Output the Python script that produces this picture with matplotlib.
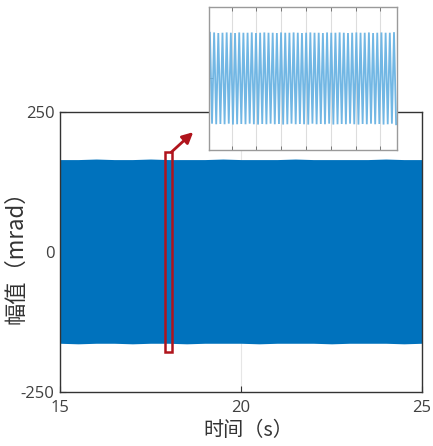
import numpy as np
import matplotlib
matplotlib.use("Agg")
import matplotlib.pyplot as plt
from matplotlib.patches import Rectangle

plt.rcParams['font.family'] = ['Noto Sans CJK SC', 'DejaVu Sans']
plt.rcParams['axes.unicode_minus'] = False

# ---- data ----
x_ticks = [15, 20, 25]
y_ticks = [-250, 0, 250]
x_label = "时间（s）"
y_label = "幅值（mrad）"

# envelope of the dense oscillation in the main plot (mrad)
env_time = [15.0, 15.5, 16.0, 16.5, 17.0, 17.5, 18.0, 18.5, 19.0, 19.5, 20.0,
            20.5, 21.0, 21.5, 22.0, 22.5, 23.0, 23.5, 24.0, 24.5, 25.0]
env_upper = [165, 165, 166, 165, 165, 166, 165, 165, 165, 166, 165,
             165, 165, 166, 165, 165, 165, 165, 166, 165, 165]
env_lower = [-163, -164, -163, -163, -164, -163, -163, -164, -163, -163, -163,
             -164, -163, -163, -163, -164, -163, -163, -163, -164, -163]

# zoomed window (red box) and the peaks/troughs seen in the inset
zoom_t0, zoom_t1 = 17.9, 18.1
zoom_ylo, zoom_yhi = -178, 178
inset_peaks = [160, 161, 159, 160, 161, 160, 159, 161, 160, 160, 161, 159, 160, 161, 160,
               160, 159, 161, 160, 160, 161, 160, 159, 160, 161, 160, 160, 159, 161, 160,
               160, 161, 160, 159, 160, 161, 160, 160, 161, 159, 160, 161, 160, 160, 162]
inset_troughs = [-158, -160, -159, -160, -158, -161, -160, -159, -160, -158, -160, -161, -159, -160, -158,
                 -160, -159, -161, -160, -158, -160, -159, -160, -161, -158, -160, -159, -160, -158, -161,
                 -160, -159, -160, -158, -160, -161, -159, -160, -158, -160, -159, -161, -160, -158, -160]

blue = '#0072BD'
light_blue = '#6ab3e3'
red = '#b0141c'

fig = plt.figure(figsize=(4.33, 4.46), dpi=100)
ax = fig.add_axes([0.1386, 0.1211, 0.836, 0.6278])

ax.fill_between(env_time, env_lower, env_upper, color=blue, lw=0, zorder=2)
ax.set_xlim(15, 25)
ax.set_ylim(-250, 250)
ax.set_xticks(x_ticks)
ax.set_yticks(y_ticks)
ax.xaxis.grid(True, color='#e6e6e6', lw=0.8, zorder=0)
ax.set_axisbelow(True)
ax.tick_params(direction='in', length=4, width=0.8, colors='#333333',
               labelsize=12, labelcolor='#404040')
for lab in ax.get_xticklabels() + ax.get_yticklabels():
    lab.set_family(['Open Sans', 'DejaVu Sans'])
ax.tick_params(axis='x', pad=6)
ax.tick_params(axis='y', pad=4)
for s in ax.spines.values():
    s.set_color('#333333')
    s.set_linewidth(1.0)
ax.set_xlabel(x_label, fontsize=14.5, color='#333333')
ax.xaxis.set_label_coords(0.52, -0.1)
ax.set_ylabel(y_label, fontsize=16, color='#333333')
ax.yaxis.set_label_coords(-0.09, 0.5)

# red box marking zoom region
ax.add_patch(Rectangle((zoom_t0, zoom_ylo), zoom_t1 - zoom_t0, zoom_yhi - zoom_ylo,
                       fill=False, ec=red, lw=1.8, zorder=5, clip_on=False))
ax.annotate('', xy=(18.68, 214), xytext=(zoom_t1 - 0.03, zoom_yhi),
            xycoords='data', textcoords='data',
            arrowprops=dict(arrowstyle='-|>', color=red, lw=2, mutation_scale=16,
                            shrinkA=0, shrinkB=0),
            annotation_clip=False, zorder=6)

# inset
ins = fig.add_axes([0.4827, 0.6637, 0.4342, 0.3206])
ins.set_facecolor('white')
vals = []
for p, q in zip(inset_peaks, inset_troughs):
    vals.extend([p, q])
t_in = np.linspace(zoom_t0, zoom_t1, len(vals))
ins.plot(t_in, vals, color=light_blue, lw=1.3, alpha=0.95, solid_joinstyle='miter')
ins.set_xlim(zoom_t0 - 0.001, zoom_t1 + 0.001)
ins.set_ylim(-250, 250)
span = zoom_t1 - zoom_t0
grid_pos = [zoom_t0 + span * f for f in (0.117, 0.25, 0.383, 0.516, 0.649, 0.782, 0.915)]
ins.set_xticks(grid_pos)
ins.set_yticks([0])
ins.xaxis.grid(True, color='#dddddd', lw=0.8)
ins.set_axisbelow(True)
ins.tick_params(direction='in', length=3, width=0.7, colors='#777777',
                labelbottom=False, labelleft=False, top=True, right=False)
for s in ins.spines.values():
    s.set_color('#9a9a9a')
    s.set_linewidth(1.0)

fig.savefig('out.png', dpi=100)
